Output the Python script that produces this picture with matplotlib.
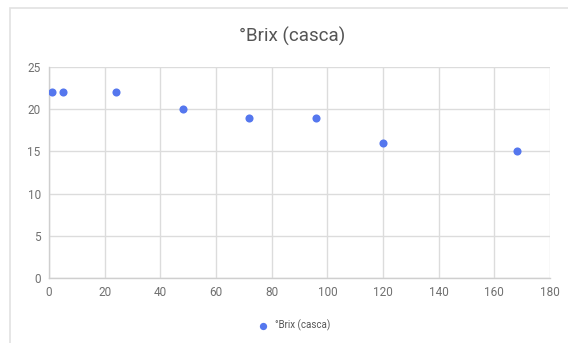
import matplotlib
matplotlib.use("Agg")
import matplotlib.pyplot as plt
from matplotlib.patches import Rectangle

hours = [1, 5, 24, 48, 72, 96, 120, 168]
brix = [22, 22, 22, 20, 19, 19, 16, 15]
xticks = [0, 20, 40, 60, 80, 100, 120, 140, 160, 180]
yticks = [0, 5, 10, 15, 20, 25]
series_name = "°Brix (casca)"
title = "°Brix (casca)"

plt.rcParams['font.family'] = ['Roboto', 'DejaVu Sans']

W, H = 568, 343
fig = plt.figure(figsize=(W / 100, H / 100), dpi=100)
fig.patch.set_facecolor('white')

# outer card border
fig.patches.append(Rectangle((10 / W, -0.1), 1.2, 1 - 8 / H + 0.1,
                             transform=fig.transFigure, fill=False,
                             edgecolor='#e2e2e2', linewidth=1.2))

ax = fig.add_axes([49 / W, 1 - 278 / H, (550 - 49) / W, (278 - 67) / H])
ax.scatter(hours, brix, s=34, color='#5577ee', zorder=3, label=series_name,
           linewidths=0)
ax.set_xlim(0, 180)
ax.set_ylim(0, 25)
ax.set_xticks(xticks)
ax.set_yticks(yticks)
ax.grid(True, color='#dcdcdc', linewidth=1)
ax.set_axisbelow(True)
for s in ['top', 'right']:
    ax.spines[s].set_visible(False)
for s in ['left', 'bottom']:
    ax.spines[s].set_color('#cfcfcf')
    ax.spines[s].set_linewidth(1)
ax.tick_params(length=0, labelsize=8.5, colors='#707070', pad=6)

fig.text(292 / W, 1 - 36 / H, title, ha='center', va='center',
         fontsize=13.5, color='#555555')

leg = fig.legend(loc='center', bbox_to_anchor=(292 / W, 1 - 325 / H),
                 frameon=False, fontsize=7, handletextpad=0.2,
                 markerscale=0.9, labelcolor='#555555')

fig.savefig('out.png', dpi=100)
